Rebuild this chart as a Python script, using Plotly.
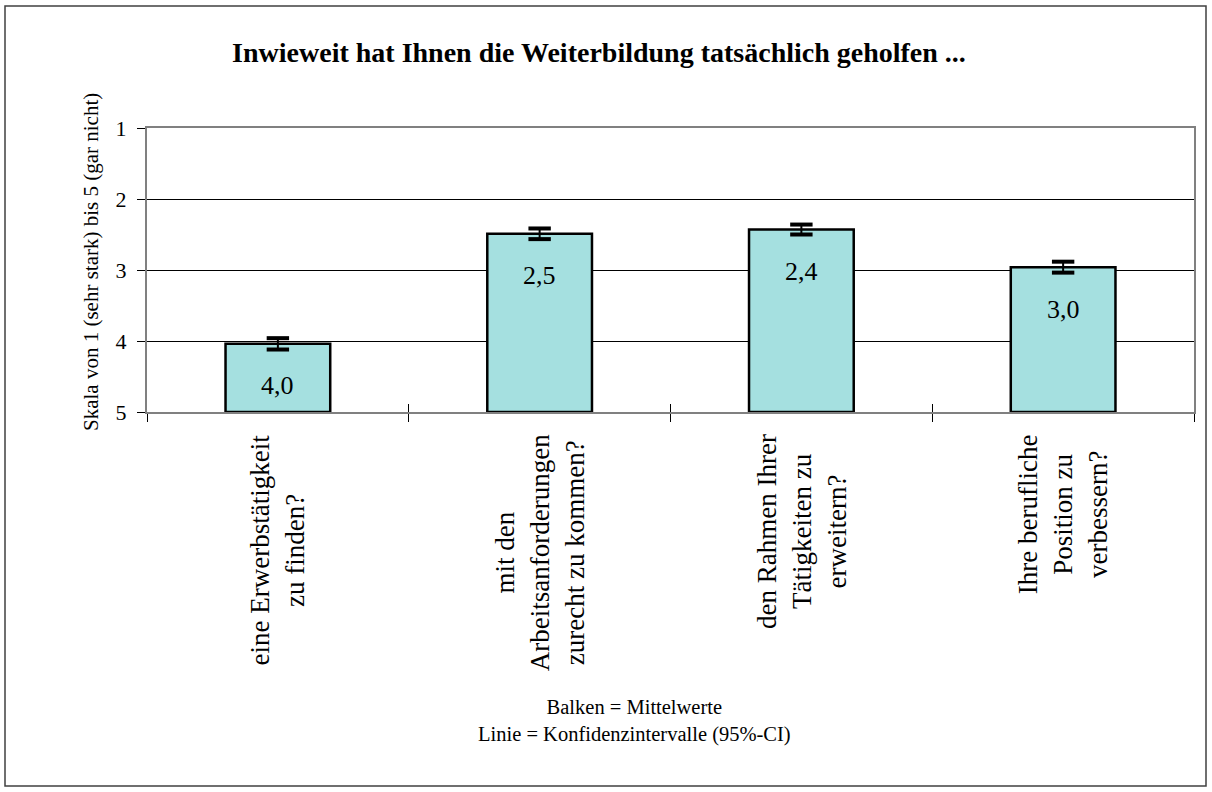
import plotly.graph_objects as go

# Survey results: mean rating per item (1 = sehr stark ... 5 = gar nicht) and 95% CI half-widths
items = [
    "eine Erwerbstätigkeit<br>zu finden?",
    "mit den<br>Arbeitsanforderungen<br>zurecht zu kommen?",
    "den Rahmen Ihrer<br>Tätigkeiten zu<br>erweitern?",
    "Ihre berufliche<br>Position zu<br>verbessern?",
]
means = [4.04, 2.49, 2.43, 2.96]
ci_half = [0.08, 0.075, 0.07, 0.077]
scale_ticks = [1, 2, 3, 4, 5]

FONT = "Liberation Serif"
BAR_FILL = "#A5E0E0"
FRAME = "#808080"

W, H = 1212, 792
L, R, T, B = 147, 18, 128, 380
PW, PH = W - L - R, H - T - B


def px_x(px):
    return (px - L) / PW


def px_y(py):
    return (H - B - py) / PH


pos = list(range(len(items)))
bounds = [p - 0.5 for p in pos] + [pos[-1] + 0.5]
base = max(scale_ticks)

fig = go.Figure()

# bars grow upward from the "gar nicht" end of the reversed scale
fig.add_trace(go.Bar(
    x=pos,
    y=[m - base for m in means],
    base=[base] * len(means),
    marker=dict(color=BAR_FILL, line=dict(color="black", width=2.5)),
    hoverinfo="skip",
    showlegend=False,
))

# confidence interval stems
fig.add_trace(go.Scatter(
    x=pos, y=means, mode="markers",
    marker=dict(size=1, color="rgba(0,0,0,0)"),
    error_y=dict(type="data", array=ci_half, color="black", thickness=2, width=0),
    hoverinfo="skip", showlegend=False,
))

# heavy caps at both ends of each interval
fig.add_trace(go.Scatter(
    x=pos + pos,
    y=[m - c for m, c in zip(means, ci_half)] + [m + c for m, c in zip(means, ci_half)],
    mode="markers",
    marker=dict(symbol="line-ew", size=16, line=dict(color="black", width=4)),
    hoverinfo="skip", showlegend=False,
))

# invisible trace so the overlaid axis (inner half of the category ticks) is drawn
fig.add_trace(go.Scatter(
    x=pos, y=means, xaxis="x2", mode="markers",
    marker=dict(size=1, color="rgba(0,0,0,0)"),
    hoverinfo="skip", showlegend=False,
))

annotations = []
# value labels inside the bars
for p, m in zip(pos, means):
    annotations.append(dict(
        x=p, y=m, xref="x", yref="y", yshift=-42,
        text=f"{m:.1f}".replace(".", ","), showarrow=False,
        font=dict(family=FONT, size=26, color="black"), yanchor="middle",
    ))
# rotated category labels below the axis
for p, lab in zip(pos, items):
    annotations.append(dict(
        x=p, y=0, xref="x", yref="paper", yshift=-20,
        text=lab, textangle=-90, align="center", showarrow=False,
        font=dict(family=FONT, size=27, color="black"),
        xanchor="center", yanchor="top",
    ))
# y-axis title
annotations.append(dict(
    x=px_x(91), y=px_y(262), xref="paper", yref="paper",
    text="Skala von 1 (sehr stark) bis 5 (gar nicht)", textangle=-90,
    showarrow=False, font=dict(family=FONT, size=21, color="black"),
    xanchor="center", yanchor="middle",
))
# explanatory note
annotations.append(dict(
    x=px_x(634), y=px_y(721), xref="paper", yref="paper",
    text="Balken = Mittelwerte<br>Linie = Konfidenzintervalle (95%-CI)",
    showarrow=False, align="center",
    font=dict(family=FONT, size=20.5, color="black"),
    xanchor="center", yanchor="middle",
))

fig.update_layout(
    width=W, height=H,
    margin=dict(l=L, r=R, t=T, b=B, pad=0),
    paper_bgcolor="white", plot_bgcolor="white",
    bargap=0.6,
    title=dict(
        text="<b>Inwieweit hat Ihnen die Weiterbildung tatsächlich geholfen ...</b>",
        x=599 / W, y=1 - 52 / H, xref="container", yref="container",
        xanchor="center", yanchor="middle",
        font=dict(family=FONT, size=28, color="black"),
    ),
    xaxis=dict(
        range=[-0.5, len(items) - 0.5], tickmode="array", tickvals=bounds,
        showticklabels=False, ticks="outside", ticklen=8, tickwidth=1, tickcolor="black",
        showline=True, linecolor=FRAME, linewidth=2, mirror=True,
        showgrid=False, zeroline=False,
    ),
    xaxis2=dict(
        overlaying="x", anchor="y", side="bottom",
        range=[-0.5, len(items) - 0.5], tickmode="array", tickvals=bounds,
        showticklabels=False, ticks="inside", ticklen=8, tickwidth=1, tickcolor="black",
        showline=False, showgrid=False, zeroline=False,
    ),
    yaxis=dict(
        range=[5, 1], tickmode="array", tickvals=scale_ticks,
        ticks="outside", ticklen=8, tickwidth=1, tickcolor="black",
        tickfont=dict(family=FONT, size=22, color="black"), ticklabelstandoff=6,
        showgrid=True, gridcolor="black", gridwidth=1,
        showline=True, linecolor=FRAME, linewidth=2, mirror=True,
        zeroline=False,
    ),
    annotations=annotations,
    shapes=[dict(
        type="rect", xref="paper", yref="paper",
        x0=px_x(5), x1=px_x(1206), y0=px_y(786), y1=px_y(6),
        line=dict(color="#404040", width=1.5), layer="below",
    )],
)

fig.write_html("out.html")
